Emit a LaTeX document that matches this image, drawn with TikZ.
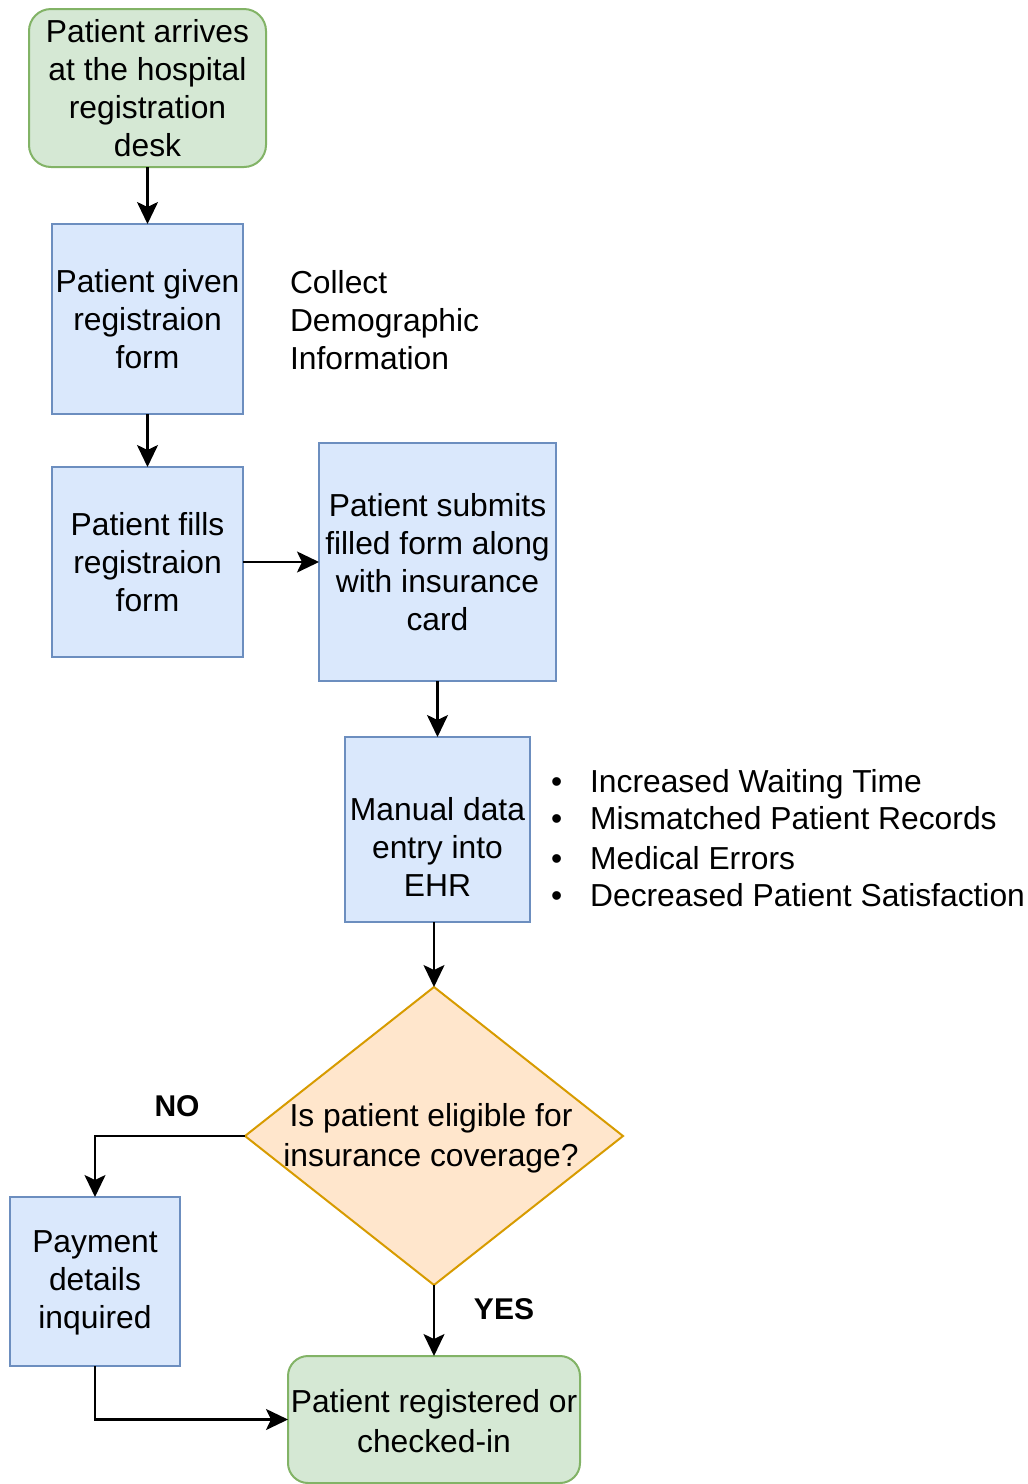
\documentclass[tikz,border=0pt]{standalone}
\usepackage{fontspec}
\setmainfont{Liberation Sans}
\usetikzlibrary{shapes.geometric,arrows.meta}
\definecolor{gfill}{HTML}{D5E8D4}\definecolor{gline}{HTML}{82B366}
\definecolor{bfill}{HTML}{DAE8FC}\definecolor{bline}{HTML}{6C8EBF}
\definecolor{ofill}{HTML}{FFE6CC}\definecolor{oline}{HTML}{D79B00}
\begin{document}
\begin{tikzpicture}[x=1pt,y=-1pt,
  every node/.style={font=\fontsize{31.8}{38}\selectfont, align=center, inner sep=0pt, outer sep=0pt},
  gbox/.style={draw=gline, fill=gfill, line width=2pt, rounded corners=22pt},
  bbox/.style={draw=bline, fill=bfill, line width=2pt},
  lbl/.style={font=\fontsize{30}{36}\selectfont\bfseries},
  arr/.style={line width=2.2pt, -{Stealth[length=22pt,width=21pt,inset=5pt]}}]
\useasboundingbox (0,0) rectangle (1028,1484);
\node[gbox, minimum width=237pt, minimum height=158pt] (start) at (147.5,88)
  {Patient arrives\\at the hospital\\registration\\desk};
\node[bbox, minimum width=191pt, minimum height=190pt] (form1) at (147.5,319)
  {Patient given\\registraion\\form};
\node[bbox, minimum width=191pt, minimum height=190pt] (form2) at (147.5,562)
  {Patient fills\\registraion\\form};
\node[bbox, minimum width=237pt, minimum height=238pt] (submit) at (437.5,562)
  {Patient submits\\filled form along\\with insurance\\card};
\node[bbox, minimum width=185pt, minimum height=185pt] (manual) at (437.5,829.5) {};
\node (manualtext) at (437.5,847) {Manual data\\entry into\\EHR};
\node[diamond, draw=oline, fill=ofill, line width=2pt, minimum width=378pt, minimum height=298pt] (dec) at (434,1136) {};
\node[font=\fontsize{31.8}{40}\selectfont] (dectext) at (431,1138) {Is patient eligible for\\insurance coverage?};
\node[bbox, minimum width=170pt, minimum height=169pt] (pay) at (95,1281.5) {};
\node (paytext) at (95,1283) {Payment\\details\\inquired};
\node[gbox, rounded corners=20pt, minimum width=292pt, minimum height=127pt] (end) at (434,1419.5) {};
\node[font=\fontsize{31.8}{40}\selectfont] (endtext) at (434,1421) {Patient registered or\\checked-in};
\node[anchor=west, align=left] (collect) at (290,320) {Collect\\Demographic\\Information};
\node[anchor=west, align=left] (bullets) at (551,842)
  {\begin{tabular}{@{}c@{\hspace{28pt}}l@{}}
   \textbullet & Increased Waiting Time\\[-1pt]
   \textbullet & Mismatched Patient Records\\[2pt]
   \textbullet & Medical Errors\\[-1pt]
   \textbullet & Decreased Patient Satisfaction
   \end{tabular}};
\node[lbl] (no) at (177,1106) {NO};
\node[lbl] (yes) at (504,1309) {YES};
\draw[arr] (start) -- (form1);
\draw[arr] (form1) -- (form2);
\draw[arr] (form2) -- (submit);
\draw[arr] (submit) -- (manual);
\draw[arr] (dec.north |- manual.south) -- (dec.north);
\draw[arr] (dec.west) -| (pay.north);
\draw[arr] (dec.south) -- (end.north);
\draw[arr] (pay.south) |- (end.west);
\end{tikzpicture}
\end{document}
